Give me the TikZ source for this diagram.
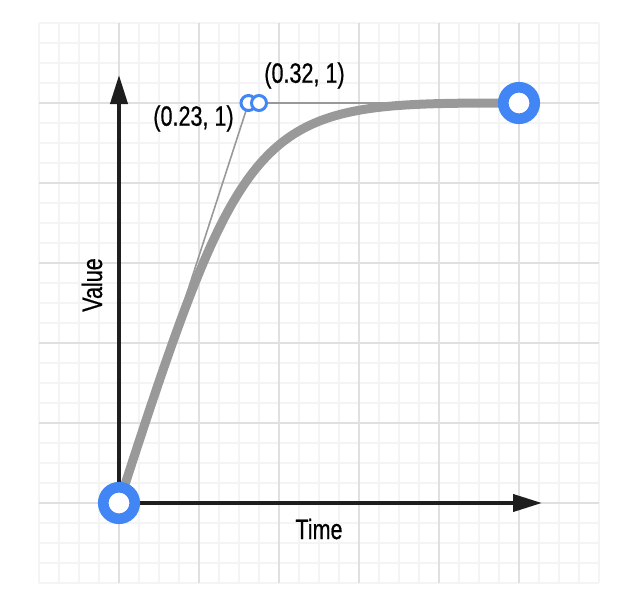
\documentclass[tikz,border=0pt]{standalone}
\usepackage{fontspec}
\setmainfont{Liberation Sans}[FakeStretch=0.77,FakeBold=0.6]
\usetikzlibrary{arrows.meta}
\definecolor{gblue}{HTML}{4285F4}
\definecolor{minorgrid}{HTML}{F4F4F4}
\definecolor{majorgrid}{HTML}{E0E0E0}
\definecolor{curvegray}{HTML}{999999}
\definecolor{axisblack}{HTML}{1E1E1E}
\tikzset{
  minorline/.style={draw=minorgrid, line width=1.5pt},
  majorline/.style={draw=majorgrid, line width=1.5pt},
  axisline/.style={draw=axisblack, line width=3pt, -{Triangle[length=21.75pt,width=12.75pt]}},
  bigring/.style={circle, draw=gblue, fill=white, line width=8pt, minimum size=23.6pt, inner sep=0pt},
  smallring/.style={circle, draw=gblue, fill=white, line width=2.25pt, minimum size=11.25pt, inner sep=0pt},
  handleline/.style={draw=curvegray, line width=1.2pt},
  easecurve/.style={draw=curvegray, line width=6.75pt},
  lbl/.style={font=\fontsize{21}{25}\selectfont, text=black, inner sep=0pt}
}
\begin{document}
\begin{tikzpicture}[x=0.75pt,y=-0.75pt]
\useasboundingbox (0,0) rectangle (640,600);
% grid
\foreach \k in {0,...,28} {
  \draw[minorline] (39+20*\k,23) -- (39+20*\k,583);
}
\foreach \k in {0,...,28} {
  \draw[minorline] (39,23+20*\k) -- (599,23+20*\k);
}
\foreach \k in {0,...,4} {
  \draw[majorline] (119+80*\k,23) -- (119+80*\k,583);
  \draw[majorline] (39,183+80*\k) -- (599,183+80*\k);
}
\draw[majorline] (39,103) -- (599,103);
\draw[majorline] (519,23) -- (519,583);
% points
\coordinate (O) at (119,503);
\coordinate (E) at (519,103);
\coordinate (c1) at (248.5,103);
\coordinate (c2) at (259,103);
\coordinate (ytip) at (119,75);
\coordinate (xtip) at (542,503);
% axes
\draw[axisline] (O) -- (ytip);
\draw[axisline] (O) -- (xtip);
% handles
\draw[handleline] (O) -- (c1);
\draw[handleline, line width=1.5pt] (c2) -- (E);
% curve
\draw[easecurve] (O) .. controls (c1) and (c2) .. (E);
% rings
\node[bigring] (start) at (O) {};
\node[bigring] (end) at (E) {};
\node[smallring] (h1) at (c1) {};
\node[smallring] (h2) at (c2) {};
% labels
\node[lbl] (l1) at (193.5,118.5) {(0.23, 1)};
\node[lbl] (l2) at (304.5,75.5) {(0.32, 1)};
\node[lbl] (time) at (319,529) {Time};
\node[lbl, rotate=90] (value) at (92,285) {Value};
\end{tikzpicture}
\end{document}
